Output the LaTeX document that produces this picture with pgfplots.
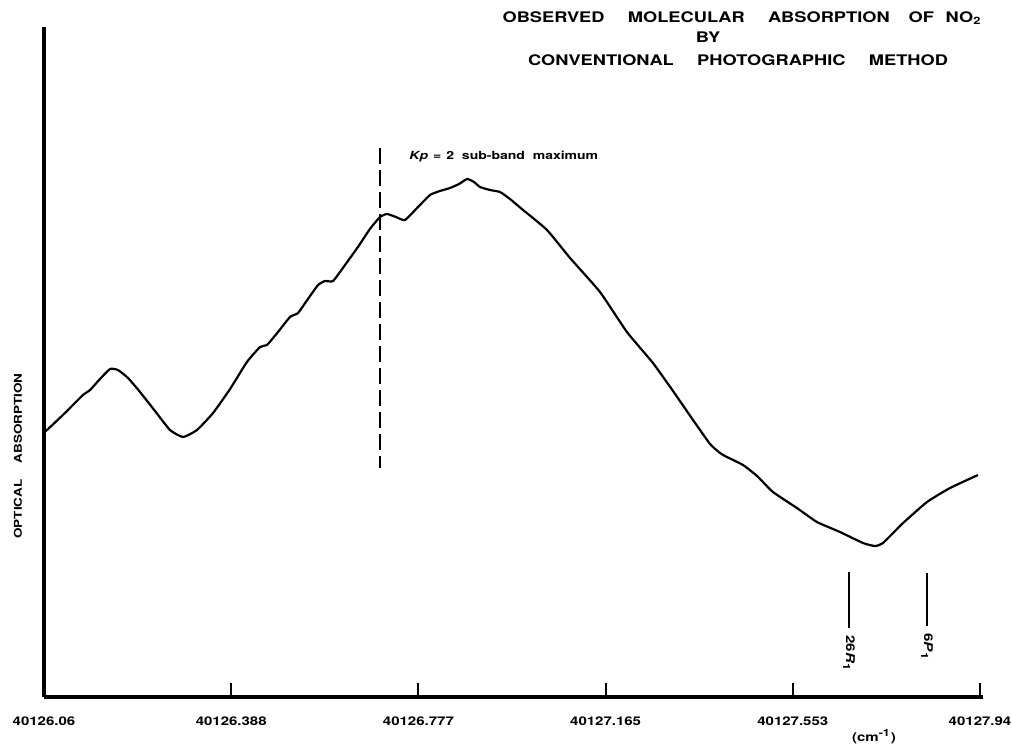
\documentclass[border=0pt]{standalone}
\usepackage{pgfplots}
\pgfplotsset{compat=1.18}
\usepackage{fontspec}
\setmainfont{TeX Gyre Heros}
% wide, bold lettering-guide style
\newfontfamily\widefont[FakeStretch=1.25]{TeX Gyre Heros}
\newcommand\lt{\widefont\bfseries}

\begin{document}
\begin{tikzpicture}[x=1pt,y=1pt]
\begin{axis}[
  at={(22pt,24pt)}, anchor=origin,
  scale only axis, width=469.5pt, height=335pt,
  xmin=0, xmax=5.016, ymin=0, ymax=6.70,
  axis x line=bottom, axis y line=left,
  axis line style={line width=2pt, -},
  xtick={0,...,5},
  xticklabels={40126.06,40126.388,40126.777,40127.165,40127.553,40127.94},
  xticklabel style={font=\lt\fontsize{6}{7}\selectfont, yshift=-6.5pt},
  tick align=inside, major tick length=7pt,
  xtick style={line width=1pt, black},
  ytick=\empty,
  clip=false,
]
% optical absorption trace
\addplot[black, line width=1.1pt, smooth, tension=0.3] coordinates {
(0,2.65) (0.016,2.67) (0.112,2.84) (0.208,3.02) (0.246,3.07) (0.299,3.18)
(0.353,3.28) (0.395,3.27) (0.449,3.19) (0.513,3.05) (0.593,2.86) (0.673,2.67)
(0.743,2.60) (0.817,2.67) (0.903,2.84) (0.994,3.08) (1.084,3.35) (1.154,3.50)
(1.191,3.52) (1.250,3.65) (1.314,3.80) (1.357,3.84) (1.410,3.98) (1.464,4.12)
(1.501,4.16) (1.544,4.16) (1.608,4.32) (1.677,4.50) (1.741,4.68) (1.795,4.80)
(1.832,4.83) (1.880,4.80) (1.928,4.77) (1.998,4.90) (2.062,5.02) (2.115,5.06)
(2.169,5.09) (2.217,5.13) (2.260,5.18) (2.297,5.15) (2.329,5.10) (2.382,5.07)
(2.436,5.05) (2.489,4.98) (2.559,4.87) (2.687,4.67) (2.810,4.39) (2.970,4.05)
(3.114,3.65) (3.253,3.34) (3.360,3.06) (3.467,2.77) (3.558,2.53) (3.611,2.44)
(3.648,2.40) (3.734,2.32) (3.809,2.21) (3.894,2.05) (4.022,1.89) (4.129,1.75)
(4.252,1.65) (4.375,1.54) (4.439,1.51) (4.482,1.54) (4.589,1.74) (4.717,1.95)
(4.840,2.09) (4.989,2.22)
};
% Kp = 2 sub-band maximum
\addplot[black, line width=1pt, dash pattern=on 8pt off 3pt] coordinates {(1.795,5.49) (1.795,2.29)};
\node[anchor=west, inner sep=0pt] at (axis cs:1.95,5.40)
  {\lt\fontsize{5.6}{7}\selectfont\textit{Kp}\hspace{0.45em}=\hspace{0.45em}2\hspace{0.7em}sub-band\hspace{0.7em}maximum};
% line positions
\addplot[black, line width=0.9pt] coordinates {(4.300,1.25) (4.300,0.69)};
\addplot[black, line width=0.9pt] coordinates {(4.717,1.24) (4.717,0.71)};
\node[rotate=-90, anchor=west, inner sep=0pt] at (axis cs:4.300,0.62)
  {\lt\fontsize{6}{7}\selectfont 26\textit{R}\textsubscript{1}};
\node[rotate=-90, anchor=west, inner sep=0pt] at (axis cs:4.717,0.64)
  {\lt\fontsize{6}{7}\selectfont 6\textit{P}\textsubscript{1}};
\end{axis}
% title
\begin{scope}[every node/.style={font=\lt\fontsize{7.3}{8}\selectfont, inner sep=0pt}]
\node at (371,363.5) {OBSERVED\hspace{1.6em}MOLECULAR\hspace{1.6em}ABSORPTION\hspace{1.3em}OF\hspace{0.8em}NO\textsubscript{2}};
\node at (354,354) {BY};
\node at (369,342.5) {CONVENTIONAL\hspace{1.6em}PHOTOGRAPHIC\hspace{1.6em}METHOD};
\end{scope}
\node[rotate=90, inner sep=0pt, font=\lt\fontsize{5.4}{6}\selectfont] at (9,144.5) {OPTICAL\hspace{1.5em}ABSORPTION};
\node[inner sep=0pt, font=\lt\fontsize{6}{7}\selectfont] at (437,4) {(cm\textsuperscript{-1})};
\pgfresetboundingbox
\path[use as bounding box] (0,0) rectangle (506,372.5);
\end{tikzpicture}
\end{document}
